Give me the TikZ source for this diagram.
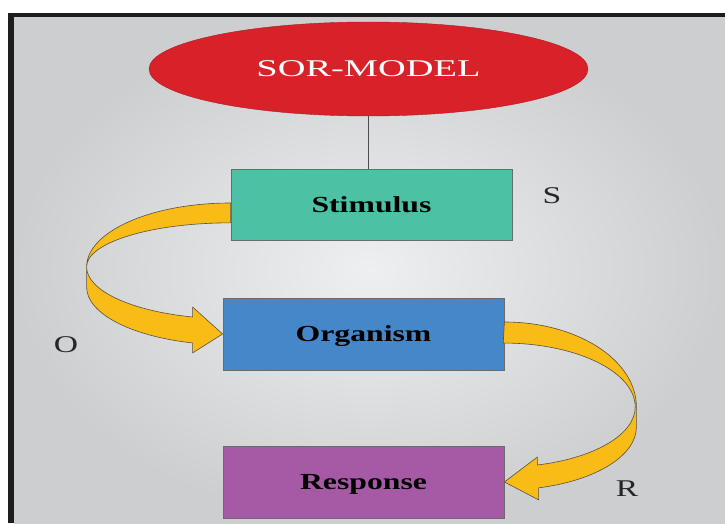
\documentclass[tikz,border=0pt]{standalone}
\usepackage{graphicx}
\usepackage{xcolor}
\usepackage{fontspec}
\setmainfont{Liberation Serif}
\usetikzlibrary{shapes.geometric}

\definecolor{panellight}{HTML}{EEEFF0}
\definecolor{paneldark}{HTML}{CDCED0}
\definecolor{framedark}{HTML}{1E1E1E}
\definecolor{modelred}{HTML}{D9212A}
\definecolor{stimgreen}{HTML}{4CC1A3}
\definecolor{orgblue}{HTML}{4587C8}
\definecolor{resppurple}{HTML}{A65AA5}
\definecolor{arrowyellow}{HTML}{F9BB15}
\definecolor{boxline}{HTML}{6B6B6B}
\definecolor{ribbonline}{HTML}{5A5040}

% text in the figure is stretched sideways
\newcommand{\wide}[2]{\scalebox{#1}[1]{#2}}

\begin{document}
\begin{tikzpicture}[x=1pt, y=1pt,
  box/.style={draw=boxline, line width=0.8pt, minimum width=281pt, minimum height=71pt,
    inner sep=0pt, text depth=0pt, font=\fontsize{23}{23}\selectfont\bfseries},
  letter/.style={text=black!85, font=\fontsize{24}{24}\selectfont},
  ribbon/.style={fill=arrowyellow, draw=ribbonline, line width=0.6pt, line join=round}]

  \useasboundingbox (0,0) rectangle (725,523);

  % Draw the shaded panel and its frame
  \shade[inner color=panellight, outer color=paneldark] (14,0) rectangle (725,506);
  \fill[framedark] (8,0) rectangle (14,510);
  \fill[framedark] (8,506) rectangle (725,510);

  % Title and the three stages
  \node[ellipse, fill=modelred, draw=modelred!80!black, line width=0.4pt,
    minimum width=439pt, minimum height=94pt, inner sep=0pt, text=white,
    font=\fontsize{24}{24}\selectfont] (model) at (368.5,454) {\wide{1.6}{SOR-MODEL}};

  \node[box, fill=stimgreen] (stim) at (371.5,318.5) {\wide{1.38}{Stimulus}};
  \node[box, fill=orgblue, minimum height=72pt] (org) at (363.5,189) {\wide{1.38}{Organism}};
  \node[box, fill=resppurple, minimum height=72pt] (resp) at (363.5,41) {\wide{1.38}{Response}};

  % Side letters
  \node[letter] (s) at (552,327) {\wide{1.4}{S}};
  \node[letter] (o) at (66,178) {\wide{1.4}{O}};
  \node[letter] (r) at (627,34) {\wide{1.4}{R}};

  % Link from the title down to the first stage
  \draw[gray!60!black, line width=1.2pt] (model.south) -- (model.south |- stim.north);

  % Curved arrow stimulus -> organism
  \filldraw[ribbon] ([yshift=1.5pt]stim.west)
    arc[start angle=90, end angle=180, x radius=144pt, y radius=64pt]
    -- ++(0,-20)
    arc[start angle=180, end angle=254.7, x radius=144pt, y radius=58pt]
    -- ++(0,-10) -- (org.west) -- ([xshift=-30pt,yshift=27pt]org.west)
    -- ++(0,-10)
    arc[start angle=254.7, end angle=180, x radius=144pt, y radius=52pt]
    arc[start angle=180, end angle=90, x radius=144pt, y radius=44pt]
    -- cycle;

  % Curved arrow organism -> response
  \filldraw[ribbon] ([yshift=12pt]org.east)
    arc[start angle=90, end angle=0, x radius=132pt, y radius=85pt]
    -- ++(0,-20)
    arc[start angle=0, end angle=-75, x radius=132pt, y radius=63pt]
    -- ++(0,-12) -- (resp.east) -- ([xshift=33pt,yshift=25pt]resp.east)
    -- ++(0,-8)
    arc[start angle=-75, end angle=0, x radius=132pt, y radius=60pt]
    arc[start angle=0, end angle=90, x radius=132pt, y radius=64pt]
    -- cycle;
\end{tikzpicture}
\end{document}
